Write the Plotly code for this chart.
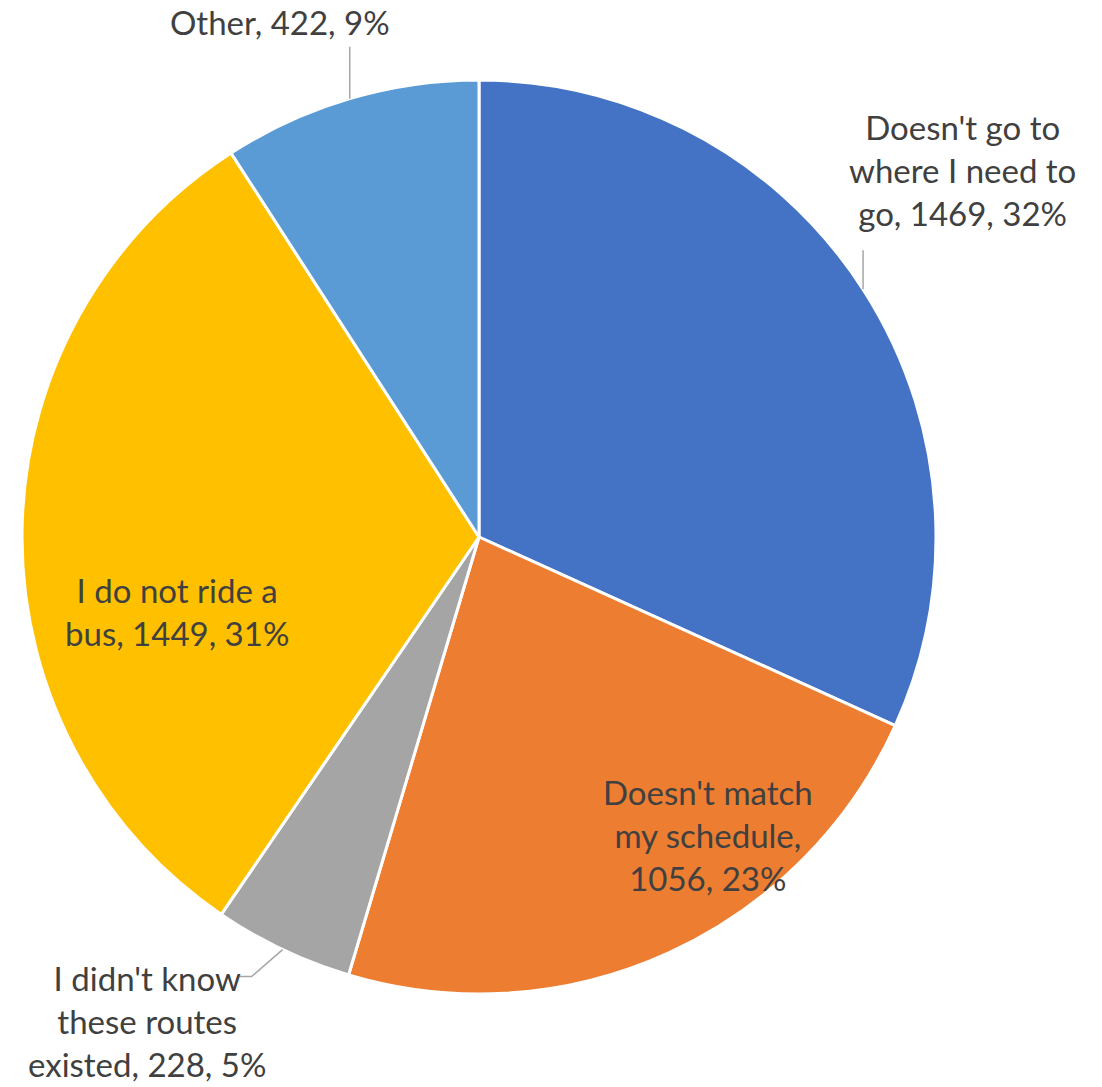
import math
import plotly.graph_objects as go

# ---- data ----
categories = ["Doesn't go to where I need to go", "Doesn't match my schedule",
              "I didn't know these routes existed", "I do not ride a bus", "Other"]
wrapped_names = ["Doesn't go to<br>where I need to<br>go", "Doesn't match<br>my schedule",
                 "I didn't know<br>these routes<br>existed", "I do not ride a<br>bus", "Other"]
values = [1469, 1056, 228, 1449, 422]
colors = ["#4472C4", "#ED7D31", "#A5A5A5", "#FFC000", "#5B9BD5"]

# ---- layout / style ----
W, H = 1102, 1087
CX, CY, R = 479, 537, 457
seps = [", ", ",<br>", ", ", ", ", ", "]
# label offsets relative to slice edge point at mid-angle (pixels)
label_offsets = [(99, -119), (39, -118), (-136, 71), (155, 80), (-70, -77)]
# leader line paths relative to edge point (None = no leader)
leaders = [[(0, 0), (0, -39)], None, [(0, 0), (-31, 27), (-43, 27)], None, [(0, 0), (0, -52)]]
FONT = "Lato"
FONT_SIZE = 33
TEXT_COLOR = "#404040"

total = sum(values)
fig = go.Figure()
fig.add_trace(go.Pie(
    labels=categories, values=values, sort=False, direction="clockwise", rotation=0,
    marker=dict(colors=colors, line=dict(color="white", width=3)),
    textinfo="none", showlegend=False,
    domain=dict(x=[(CX - R) / W, (CX + R) / W], y=[1 - (CY + R) / H, 1 - (CY - R) / H]),
))

annotations = []
shapes = []
cum = 0
for i, v in enumerate(values):
    mid = (cum + v / 2) / total * 2 * math.pi
    cum += v
    ex = CX + R * math.sin(mid)
    ey = CY - R * math.cos(mid)
    pct = round(v / total * 100)
    text = f"{wrapped_names[i]}{seps[i]}{v}, {pct}%"
    dx, dy = label_offsets[i]
    annotations.append(dict(x=ex + dx, y=ey + dy, xref="x", yref="y", text=text,
                            showarrow=False, xanchor="center", yanchor="middle", align="center",
                            font=dict(family=FONT, size=FONT_SIZE, color=TEXT_COLOR)))
    if leaders[i]:
        pts = leaders[i]
        path = "M " + " L ".join(f"{ex + px},{ey + py}" for px, py in pts)
        shapes.append(dict(type="path", path=path, xref="x", yref="y",
                           line=dict(color="#A6A6A6", width=1.5)))

fig.update_layout(
    width=W, height=H, margin=dict(l=0, r=0, t=0, b=0),
    paper_bgcolor="white", plot_bgcolor="rgba(0,0,0,0)",
    xaxis=dict(range=[0, W], visible=False, fixedrange=True),
    yaxis=dict(range=[H, 0], visible=False, fixedrange=True),
    annotations=annotations, shapes=shapes,
)
fig.write_html("out.html", config={"displayModeBar": False},
               post_script="document.body.style.margin='0';document.body.style.overflow='hidden';")
